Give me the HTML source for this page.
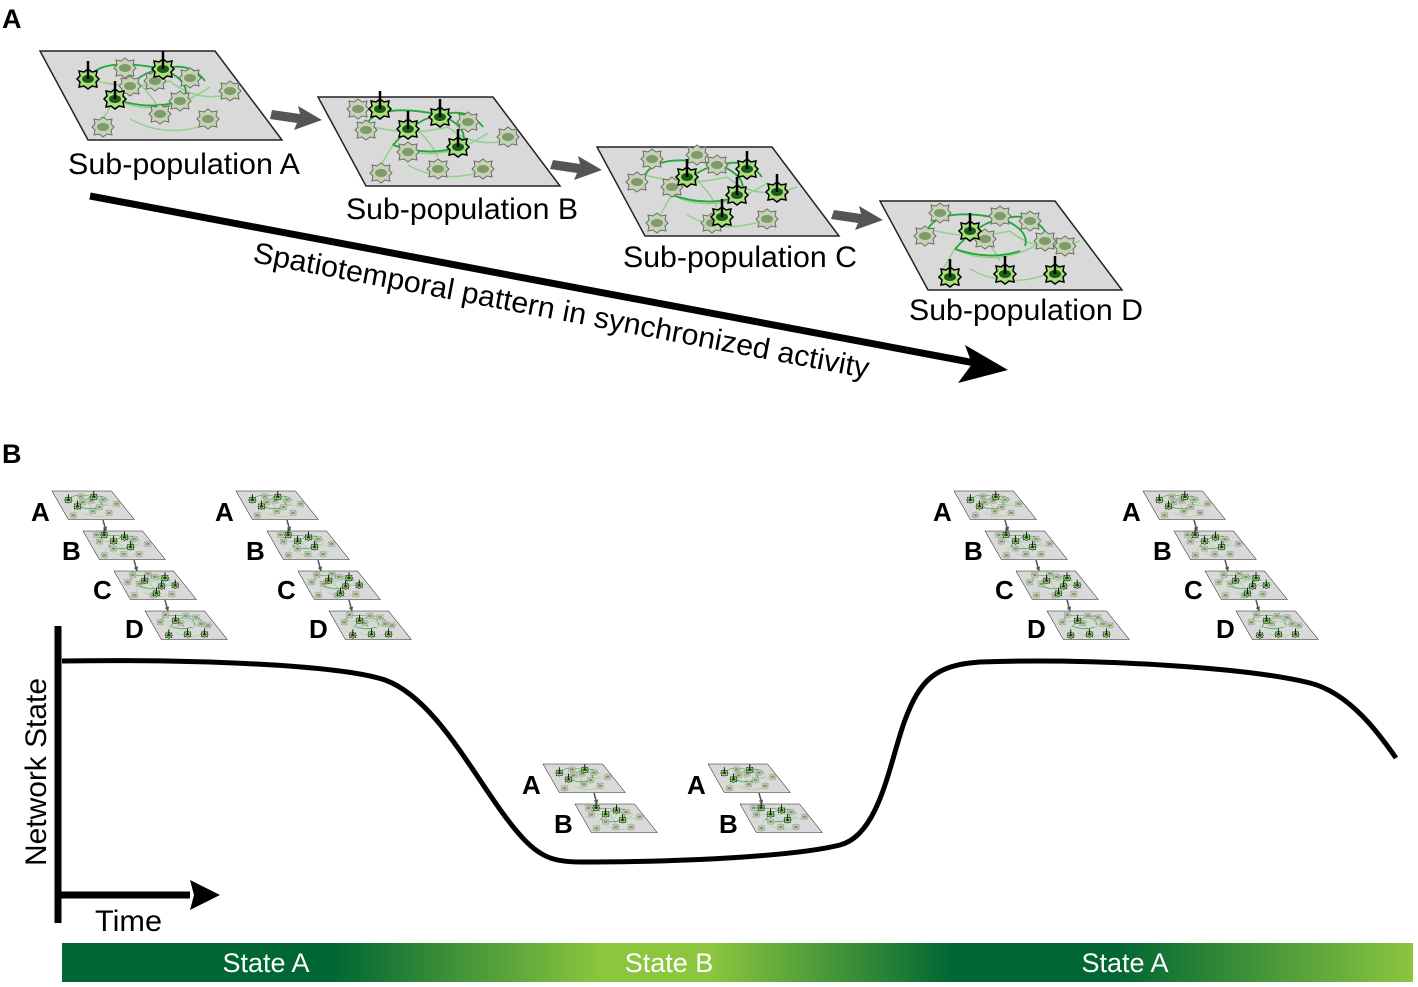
<!DOCTYPE html>
<html><head><meta charset="utf-8"><style>
html,body{margin:0;padding:0;background:#fff}
svg{display:block}
text{font-family:"Liberation Sans",Arial,sans-serif}
</style></head><body>
<svg width="1418" height="987" viewBox="0 0 1418 987" xmlns="http://www.w3.org/2000/svg">
<defs>
 <linearGradient id="bar" x1="0" x2="1" y1="0" y2="0">
  <stop offset="0" stop-color="#006633"/>
  <stop offset="0.2" stop-color="#006633"/>
  <stop offset="0.4" stop-color="#8cc63f"/>
  <stop offset="0.48" stop-color="#8cc63f"/>
  <stop offset="0.66" stop-color="#006633"/>
  <stop offset="0.78" stop-color="#006633"/>
  <stop offset="1" stop-color="#8cc63f"/>
 </linearGradient>
 <g id="cell"><polygon points="0,-10 4,-7 9,-8 8,-3 11,0 8,3 9,8 4,7 0,10 -4,7 -9,8 -8,3 -11,0 -8,-3 -9,-8 -4,-7" fill="#c6d3b4" stroke="#6b6b6b" stroke-width="1"/><ellipse rx="6" ry="4" fill="#7f9a6c"/></g>
 <g id="act"><polygon points="0,-10 4,-7 9,-8 8,-3 11,0 8,3 9,8 4,7 0,10 -4,7 -9,8 -8,3 -11,0 -8,-3 -9,-8 -4,-7" fill="#a8e07c" stroke="#000" stroke-width="1.5"/><ellipse rx="6" ry="4" fill="#1e5a1e"/><line x1="0" y1="0" x2="0" y2="-18" stroke="#000" stroke-width="2.5"/></g>
 <g id="base">
  <polygon points="0,0 175,0 242,89 48,89" fill="#d9d9d9" stroke="#222" stroke-width="1.5"/>
  <g fill="none" stroke="#8fd18a" stroke-width="1.5">
   <path d="M48,28 Q90,40 130,30"/><path d="M75,48 Q120,70 170,36"/><path d="M90,68 Q130,90 175,70"/><path d="M130,30 Q160,55 200,40"/><path d="M58,78 Q70,55 75,48"/><path d="M120,60 Q110,40 90,25"/>
  </g>
  <g fill="none" stroke="#22a83a" stroke-width="1.8">
   <path d="M48,28 Q60,5 123,18"/><path d="M75,48 Q100,20 123,18"/><path d="M123,18 Q150,30 145,45"/><path d="M75,48 Q110,60 140,50"/><path d="M123,18 Q150,10 165,30"/>
  </g>
 </g>
 <g id="pA"><use href="#base"/>
  <use href="#cell" x="85" y="17"/><use href="#cell" x="90" y="35"/><use href="#cell" x="140" y="50"/><use href="#cell" x="150" y="27"/><use href="#cell" x="120" y="63"/><use href="#cell" x="190" y="40"/><use href="#cell" x="63" y="76"/><use href="#cell" x="168" y="68"/><use href="#cell" x="115" y="30"/>
  <use href="#act" x="48" y="28"/><use href="#act" x="123" y="18"/><use href="#act" x="75" y="48"/></g>
 <g id="pB"><use href="#base"/>
  <use href="#cell" x="40" y="12"/><use href="#cell" x="48" y="33"/><use href="#cell" x="150" y="25"/><use href="#cell" x="190" y="40"/><use href="#cell" x="63" y="76"/><use href="#cell" x="120" y="72"/><use href="#cell" x="165" y="72"/><use href="#cell" x="90" y="55"/>
  <use href="#act" x="62" y="12"/><use href="#act" x="90" y="32"/><use href="#act" x="122" y="20"/><use href="#act" x="140" y="50"/></g>
 <g id="pC"><use href="#base"/>
  <use href="#cell" x="55" y="12"/><use href="#cell" x="100" y="8"/><use href="#cell" x="120" y="18"/><use href="#cell" x="40" y="35"/><use href="#cell" x="75" y="40"/><use href="#cell" x="60" y="76"/><use href="#cell" x="115" y="76"/><use href="#cell" x="170" y="72"/>
  <use href="#act" x="90" y="30"/><use href="#act" x="150" y="22"/><use href="#act" x="140" y="48"/><use href="#act" x="180" y="45"/><use href="#act" x="125" y="70"/></g>
 <g id="pD"><use href="#base"/>
  <use href="#cell" x="60" y="12"/><use href="#cell" x="120" y="15"/><use href="#cell" x="150" y="20"/><use href="#cell" x="45" y="35"/><use href="#cell" x="105" y="38"/><use href="#cell" x="185" y="45"/><use href="#cell" x="165" y="40"/>
  <use href="#act" x="90" y="30"/><use href="#act" x="70" y="76"/><use href="#act" x="125" y="73"/><use href="#act" x="175" y="73"/></g>
 <marker id="ah" viewBox="0 0 10 10" refX="9" refY="5" markerWidth="3" markerHeight="3" orient="auto"><path d="M0,0 L10,5 L0,10 Z" fill="#555"/></marker>
 <g id="stack4">
  <use href="#pA" transform="translate(0,0) scale(0.34,0.32)"/>
  <use href="#pB" transform="translate(31,40) scale(0.34,0.32)"/>
  <use href="#pC" transform="translate(62,80) scale(0.34,0.32)"/>
  <use href="#pD" transform="translate(93,120) scale(0.34,0.32)"/>
  <line x1="51" y1="29" x2="54" y2="40" stroke="#555" stroke-width="1.5" marker-end="url(#ah)"/>
  <line x1="82" y1="69" x2="85" y2="80" stroke="#555" stroke-width="1.5" marker-end="url(#ah)"/>
  <line x1="113" y1="109" x2="116" y2="120" stroke="#555" stroke-width="1.5" marker-end="url(#ah)"/>
  <g font-weight="bold" font-size="26"><text x="-21" y="30">A</text><text x="10" y="69">B</text><text x="41" y="108">C</text><text x="73" y="147">D</text></g>
 </g>
 <g id="stack2">
  <use href="#pA" transform="translate(0,0) scale(0.34,0.32)"/>
  <use href="#pB" transform="translate(32,40) scale(0.34,0.32)"/>
  <line x1="51" y1="29" x2="54" y2="40" stroke="#555" stroke-width="1.5" marker-end="url(#ah)"/>
  <g font-weight="bold" font-size="26"><text x="-21" y="30">A</text><text x="11" y="69">B</text></g>
 </g>
</defs>

<text x="2" y="28" font-size="27" font-weight="bold">A</text>
<text x="2" y="463" font-size="27" font-weight="bold">B</text>

<use href="#pA" transform="translate(40,51)"/>
<use href="#pB" transform="translate(318,97)"/>
<use href="#pC" transform="translate(597,147)"/>
<use href="#pD" transform="translate(880,201)"/>
<g fill="#555">
 <polygon points="272,110 300,114 298,106 322,120 294,130 297,123 270,119"/>
 <polygon points="553,160 580,164 578,156 602,170 574,180 577,173 550,169"/>
 <polygon points="834,210 861,214 859,206 883,220 855,230 858,223 831,219"/>
</g>
<g font-size="29.5">
 <text x="68" y="174" textLength="232" lengthAdjust="spacingAndGlyphs">Sub-population A</text>
 <text x="346" y="219" textLength="232" lengthAdjust="spacingAndGlyphs">Sub-population B</text>
 <text x="623" y="267" textLength="234" lengthAdjust="spacingAndGlyphs">Sub-population C</text>
 <text x="909" y="320" textLength="234" lengthAdjust="spacingAndGlyphs">Sub-population D</text>
</g>
<line x1="90" y1="196" x2="975" y2="363" stroke="#000" stroke-width="7"/>
<polygon points="1008,370 965,345 972,364 958,383" fill="#000"/>
<text x="0" y="0" font-size="29.5" textLength="626" lengthAdjust="spacingAndGlyphs" transform="translate(252,262) rotate(10.7)">Spatiotemporal pattern in synchronized activity</text>

<use href="#stack4" transform="translate(52,491)"/>
<use href="#stack4" transform="translate(236,491)"/>
<use href="#stack4" transform="translate(954,491)"/>
<use href="#stack4" transform="translate(1143,491)"/>
<use href="#stack2" transform="translate(543,764)"/>
<use href="#stack2" transform="translate(708,764)"/>

<line x1="58" y1="626" x2="58" y2="923" stroke="#000" stroke-width="7"/>
<line x1="58" y1="895" x2="190" y2="895" stroke="#000" stroke-width="7"/>
<polygon points="220,895 190,880 194,895 190,910" fill="#000"/>
<text x="0" y="0" font-size="29.5" textLength="188" lengthAdjust="spacingAndGlyphs" transform="translate(46,866) rotate(-90)">Network State</text>
<text x="95" y="931" font-size="29.5" textLength="67" lengthAdjust="spacingAndGlyphs">Time</text>
<path d="M62,661 C200,659 340,665 385,680 C440,700 480,790 520,835 C540,858 555,862 580,862 C700,862 800,855 840,845 C880,835 890,760 905,720 C920,680 935,665 980,662 C1100,658 1250,668 1310,683 C1350,693 1380,735 1396,758" fill="none" stroke="#000" stroke-width="5"/>

<rect x="62" y="943" width="1351" height="39" fill="url(#bar)"/>
<g font-size="27" fill="#fff" text-anchor="middle">
 <text x="266" y="972">State A</text>
 <text x="669" y="972">State B</text>
 <text x="1125" y="972">State A</text>
</g>
</svg>
</body></html>
